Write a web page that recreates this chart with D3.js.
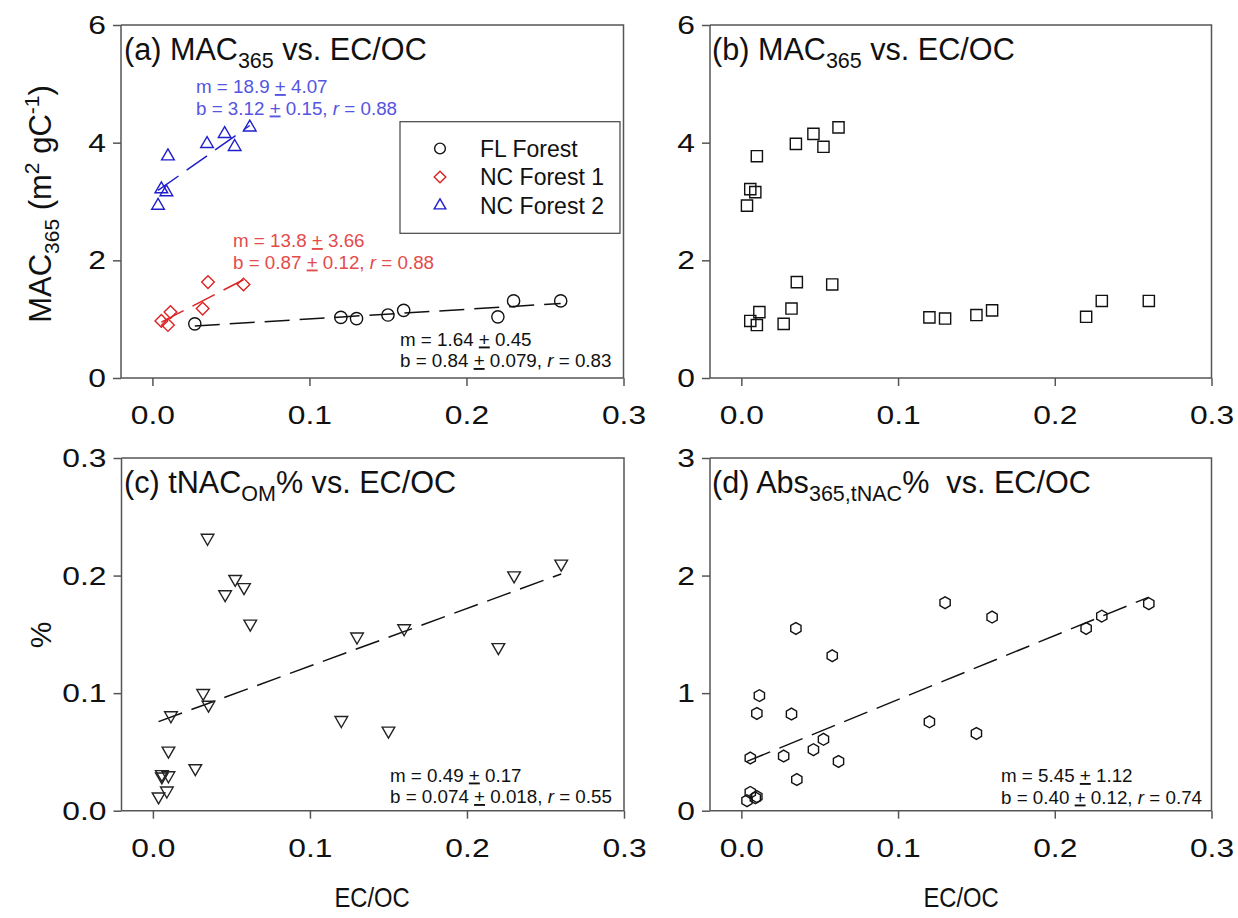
<!DOCTYPE html>
<html>
<head>
<meta charset="utf-8">
<script src="https://cdn.jsdelivr.net/npm/d3@7"></script>
<style>
  html, body { margin: 0; padding: 0; background: #fff; }
  svg { display: block; font-family: "Liberation Sans", Arial, sans-serif; }
  text { white-space: pre; }
</style>
</head>
<body>
<svg id="chart" width="1238" height="918"></svg>
<script>
// ---------------- DATA ----------------
const seriesNames = ["FL Forest", "NC Forest 1", "NC Forest 2"];

// EC/OC ratio per sample
const ecocFL  = [0.027, 0.120, 0.130, 0.150, 0.160, 0.220, 0.230, 0.260];
const ecocNC1 = [0.0057, 0.0099, 0.0115, 0.032, 0.0354, 0.058];
const ecocNC2 = [0.0036, 0.0057, 0.0089, 0.0099, 0.0348, 0.046, 0.0524, 0.062];

// MAC365 (m2 gC-1)
const macFL  = [0.92, 1.03, 1.01, 1.07, 1.15, 1.04, 1.31, 1.31];
const macNC1 = [0.97, 0.90, 1.12, 1.18, 1.63, 1.59];
const macNC2 = [2.93, 3.21, 3.16, 3.77, 3.98, 4.15, 3.93, 4.26];

// tNAC_OM %
const tnacFL  = [0.036, 0.077, 0.148, 0.068, 0.155, 0.139, 0.200, 0.210];
const tnacNC1 = [0.031, 0.030, 0.081, 0.100, 0.090, 0.190];
const tnacNC2 = [0.012, 0.029, 0.017, 0.051, 0.232, 0.184, 0.197, 0.159];

// Abs365,tNAC %
const absFL  = [0.465, 0.756, 1.769, 0.657, 1.647, 1.550, 1.655, 1.761];
const absNC1 = [0.448, 0.120, 0.979, 0.822, 0.265, 1.318];
const absNC2 = [0.085, 0.156, 0.110, 0.827, 1.550, 0.519, 0.607, 0.419];

// regression fits [slope, intercept]
const fitFL  = [1.64, 0.84];
const fitNC1 = [13.8, 0.87];
const fitNC2 = [18.9, 3.12];
const fitTnac = [0.49, 0.074];
const fitAbs  = [5.45, 0.40];

// tick labels
const xTicks = [0.0, 0.1, 0.2, 0.3];
const yTicksMac = [0, 2, 4, 6];
const yTicksTnac = [0.0, 0.1, 0.2, 0.3];
const yTicksAbs = [0, 1, 2, 3];

// ---------------- SETUP ----------------
const svg = d3.select("#chart");
svg.append("rect").attr("width", 1238).attr("height", 918).attr("fill", "#fff");

const AXIS_COLOR = "#555";
const BLUE = "rgb(30,30,205)", BLUE_TXT = "rgb(85,85,225)";
const RED = "rgb(220,35,35)", RED_TXT = "rgb(228,75,75)";
const TICK_STRETCH = 1.2;

const panels = {
  a: {l: 121, t: 25, r: 623.5, b: 378, ydom: [0, 6], yt: yTicksMac, yf: d3.format("d")},
  b: {l: 710, t: 25, r: 1211.5, b: 378, ydom: [0, 6], yt: yTicksMac, yf: d3.format("d")},
  c: {l: 121.5, t: 458, r: 624, b: 810.7, ydom: [0, 0.3], yt: yTicksTnac, yf: d3.format(".1f")},
  d: {l: 710, t: 458, r: 1211.5, b: 810.7, ydom: [0, 3], yt: yTicksAbs, yf: d3.format("d")}
};

function setupPanel(p) {
  p.x = d3.scaleLinear().domain([-0.02, 0.3]).range([p.l, p.r]);
  p.y = d3.scaleLinear().domain(p.ydom).range([p.b, p.t]);
  const g = svg.append("g");
  g.append("path")
    .attr("d", `M${p.l},${p.t}H${p.r}V${p.b}`)
    .attr("fill", "none").attr("stroke", AXIS_COLOR).attr("stroke-width", 1.5);
  const ax = g.append("g").attr("transform", `translate(0,${p.b})`)
    .call(d3.axisBottom(p.x).tickValues(xTicks).tickFormat(d3.format(".1f")).tickSizeOuter(0).tickSize(8).tickPadding(19));
  const ay = g.append("g").attr("transform", `translate(${p.l},0)`)
    .call(d3.axisLeft(p.y).tickValues(p.yt).tickFormat(p.yf).tickSizeOuter(0).tickSize(8).tickPadding(7));
  [ax, ay].forEach(a => {
    a.select(".domain").attr("stroke", AXIS_COLOR).attr("stroke-width", 1.5);
    a.selectAll(".tick line").attr("stroke", AXIS_COLOR).attr("stroke-width", 1.5);
    a.selectAll(".tick text").attr("fill", "#111").attr("font-size", 26.5)
      .attr("font-family", '"Liberation Sans", Arial, sans-serif')
      .each(function() {
        const t = d3.select(this);
        const x = +t.attr("x") || 0;
        t.attr("x", x / TICK_STRETCH).attr("transform", `scale(${TICK_STRETCH},1)`);
      });
  });
  ax.select(".domain").attr("d", `M${p.l},0H${p.r}`);
  ay.select(".domain").attr("d", `M0,${p.b}V${p.t}`);
  p.g = g;
  return p;
}
Object.values(panels).forEach(setupPanel);

// custom symbols
const symDiamond = { draw(ctx, size) { const r = Math.sqrt(size) / 2; ctx.moveTo(0, -r); ctx.lineTo(r, 0); ctx.lineTo(0, r); ctx.lineTo(-r, 0); ctx.closePath(); } };
const symTriUp = { draw(ctx, size) { const s = Math.sqrt(size); const h = s * Math.sqrt(3) / 2; ctx.moveTo(0, -2 * h / 3); ctx.lineTo(s / 2, h / 3); ctx.lineTo(-s / 2, h / 3); ctx.closePath(); } };
const symTriDown = { draw(ctx, size) { const s = Math.sqrt(size); const h = s * Math.sqrt(3) / 2; ctx.moveTo(0, 2 * h / 3); ctx.lineTo(s / 2, -h / 3); ctx.lineTo(-s / 2, -h / 3); ctx.closePath(); } };
const symHex = { draw(ctx, size) { const r = Math.sqrt(size) / 2; for (let i = 0; i < 6; i++) { const a = Math.PI / 2 + i * Math.PI / 3; const px = r * Math.cos(a), py = r * Math.sin(a); if (i === 0) ctx.moveTo(px, py); else ctx.lineTo(px, py); } ctx.closePath(); } };
const symCircle = { draw(ctx, size) { const r = Math.sqrt(size) / 2; ctx.moveTo(r, 0); ctx.arc(0, 0, r, 0, 2 * Math.PI); } };
const symSquare = { draw(ctx, size) { const s = Math.sqrt(size); ctx.rect(-s / 2, -s / 2, s, s); } };

function zip(xs, ys) { return xs.map((v, i) => [v, ys[i]]); }

function drawPoints(p, data, type, size, color) {
  p.g.append("g").selectAll("path").data(data).join("path")
    .attr("transform", d => `translate(${p.x(d[0])},${p.y(d[1])})`)
    .attr("d", d3.symbol().type(type).size(size))
    .attr("fill", "none").attr("stroke", color).attr("stroke-width", 1.4);
}
function drawFit(p, xs, fit, color) {
  const x0 = d3.min(xs), x1 = d3.max(xs);
  const line = d3.line().x(d => p.x(d)).y(d => p.y(fit[0] * d + fit[1]));
  p.g.append("path").datum([x0, x1]).attr("d", line)
    .attr("fill", "none").attr("stroke", color).attr("stroke-width", 1.5)
    .attr("stroke-dasharray", "25,10");
}
function annot(x, y, lines, color) {
  const t = svg.append("text").attr("font-size", 18.8).attr("fill", color);
  lines.forEach((ln, i) => {
    const base = t.append("tspan").attr("x", x).attr("y", y + i * 21.5);
    ln.forEach((seg, j) => {
      const ts = j === 0 ? base : t.append("tspan");
      ts.text(seg.t);
      if (seg.u) ts.attr("text-decoration", "underline");
      if (seg.i) ts.attr("font-style", "italic");
    });
  });
}
function pm(m, dm) { return [{t: `m = ${m} `}, {t: "+", u: true}, {t: ` ${dm}`}]; }
function bl(b, db, r) { return [{t: `b = ${b} `}, {t: "+", u: true}, {t: ` ${db}, `}, {t: "r", i: true}, {t: ` = ${r}`}]; }

// ---------------- PANEL A ----------------
const A = panels.a;
drawFit(A, ecocFL, fitFL, "#111");
drawFit(A, ecocNC1, fitNC1, RED);
drawFit(A, ecocNC2, fitNC2, BLUE);
drawPoints(A, zip(ecocFL, macFL), symCircle, 150, "#111");
drawPoints(A, zip(ecocNC1, macNC1), symDiamond, 160, RED);
drawPoints(A, zip(ecocNC2, macNC2), symTriUp, 160, BLUE);
annot(196, 93, [pm("18.9", "4.07"), bl("3.12", "0.15", "0.88")], BLUE_TXT);
annot(233, 247, [pm("13.8", "3.66"), bl("0.87", "0.12", "0.88")], RED_TXT);
annot(400, 345.5, [pm("1.64", "0.45"), bl("0.84", "0.079", "0.83")], "#111");

// legend
const leg = svg.append("g");
leg.append("rect").attr("x", 400).attr("y", 121.7).attr("width", 220).attr("height", 111.6)
  .attr("fill", "#fff").attr("stroke", "#444").attr("stroke-width", 1.2);
const legTypes = [symCircle, symDiamond, symTriUp];
const legColors = ["#111", RED, BLUE];
const legSizes = [115, 135, 135];
seriesNames.forEach((n, i) => {
  const cy = 148.5 + i * 28.5;
  leg.append("path").attr("transform", `translate(440,${cy})`)
    .attr("d", d3.symbol().type(legTypes[i]).size(legSizes[i]))
    .attr("fill", "none").attr("stroke", legColors[i]).attr("stroke-width", 1.4);
  leg.append("text").attr("x", 480).attr("y", cy + 8.3).attr("font-size", 23).attr("fill", "#111").text(n);
});

// ---------------- PANEL B ----------------
const B = panels.b;
const allEcoc = ecocFL.concat(ecocNC1, ecocNC2);
drawPoints(B, zip(allEcoc, macFL.concat(macNC1, macNC2)), symSquare, 125, "#111");

// ---------------- PANEL C ----------------
const C = panels.c;
drawFit(C, allEcoc, fitTnac, "#111");
drawPoints(C, zip(allEcoc, tnacFL.concat(tnacNC1, tnacNC2)), symTriDown, 160, "#222");
annot(390, 781.5, [pm("0.49", "0.17"), bl("0.074", "0.018", "0.55")], "#111");

// ---------------- PANEL D ----------------
const D = panels.d;
drawFit(D, allEcoc, fitAbs, "#111");
drawPoints(D, zip(allEcoc, absFL.concat(absNC1, absNC2)), symHex, 140, "#111");
annot(1001, 782, [pm("5.45", "1.12"), bl("0.40", "0.12", "0.74")], "#111");

// ---------------- TITLES ----------------
function title(x, y, parts) {
  const t = svg.append("text").attr("x", x).attr("y", y).attr("font-size", 30.6).attr("fill", "#111");
  parts.forEach(p => {
    const ts = t.append("tspan").text(p.t);
    if (p.sub) ts.attr("font-size", 21.5).attr("dy", 8);
    if (p.after) ts.attr("dy", -8);
  });
}
title(124, 60, [{t: "(a) MAC"}, {t: "365", sub: true}, {t: " vs. EC/OC", after: true}]);
title(712, 60, [{t: "(b) MAC"}, {t: "365", sub: true}, {t: " vs. EC/OC", after: true}]);
title(124, 493, [{t: "(c) tNAC"}, {t: "OM", sub: true}, {t: "% vs. EC/OC", after: true}]);
title(712, 493, [{t: "(d) Abs"}, {t: "365,tNAC", sub: true}, {t: "%  vs. EC/OC", after: true}]);

// axis titles
[372, 961].forEach(cx => {
  svg.append("text").attr("transform", `translate(${cx},907) scale(0.88,1)`).attr("text-anchor", "middle")
    .attr("font-size", 27).attr("fill", "#111").text("EC/OC");
});
const yt = svg.append("text").attr("transform", "translate(51,204) rotate(-90)")
  .attr("text-anchor", "middle").attr("font-size", 31).attr("fill", "#111");
yt.append("tspan").text("MAC");
yt.append("tspan").text("365").attr("font-size", 21).attr("dy", 8);
yt.append("tspan").text(" (m").attr("dy", -8);
yt.append("tspan").text("2").attr("font-size", 21).attr("dy", -12);
yt.append("tspan").text(" gC").attr("dy", 12);
yt.append("tspan").text("-1").attr("font-size", 21).attr("dy", -12);
yt.append("tspan").text(")").attr("dy", 12);
svg.append("text").attr("transform", "translate(51,635) rotate(-90)")
  .attr("text-anchor", "middle").attr("font-size", 30).attr("fill", "#111").text("%");
</script>
</body>
</html>
